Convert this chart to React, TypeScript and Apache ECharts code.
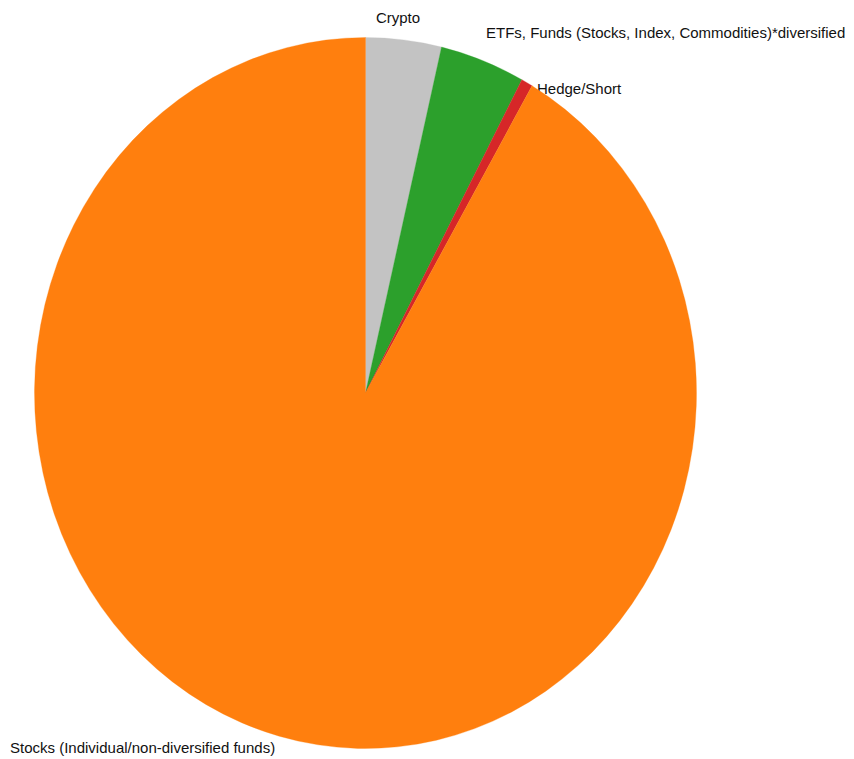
import React, { useEffect, useRef } from "react";
import * as echarts from "echarts";

const categories = [
  "Crypto",
  "ETFs, Funds (Stocks, Index, Commodities)*diversified",
  "Hedge/Short",
  "Stocks (Individual/non-diversified funds)",
];
const shares = [3.69, 4.14, 0.56, 91.61];
const colors = ["#c3c3c3", "#2ca02c", "#d62728", "#ff7f0e"];

export default function App() {
  const ref = useRef<HTMLDivElement>(null);
  useEffect(() => {
    if (!ref.current) return;
    const chart = echarts.init(ref.current, undefined, { renderer: "svg" });
    const total = shares.reduce((a, b) => a + b, 0);
    const cx = 365.5;
    const cy = 393;
    const rx = 331;
    const ry = 355.5;
    const renderItem = (params: any, api: any) => {
      const i = params.dataIndex;
      let before = 0;
      for (let k = 0; k < i; k++) before += shares[k];
      const v = api.value(0);
      const start = -Math.PI / 2 + (2 * Math.PI * before) / total;
      const end = start + (2 * Math.PI * v) / total;
      return {
        type: "sector",
        x: cx,
        y: cy,
        scaleY: ry / rx,
        shape: { cx: 0, cy: 0, r0: 0, r: rx, startAngle: start, endAngle: end, clockwise: true },
        style: { fill: api.visual("color"), stroke: api.visual("color"), lineWidth: 0.3 },
      };
    };
    const font = { fontFamily: "Liberation Sans, Arial, sans-serif", fontSize: 15, fill: "#111111" };
    chart.setOption({
      animation: false,
      backgroundColor: "#ffffff",
      series: [
        {
          type: "custom",
          coordinateSystem: "none",
          renderItem,
          data: shares.map((v, i) => ({ value: v, name: categories[i], itemStyle: { color: colors[i] } })),
        },
      ],
      graphic: [
        { type: "text", x: 398, y: 17, style: { ...font, text: categories[0], textAlign: "center", textVerticalAlign: "middle" } },
        { type: "text", x: 486, y: 32, style: { ...font, text: categories[1], textAlign: "left", textVerticalAlign: "middle" } },
        { type: "text", x: 537, y: 88, style: { ...font, text: categories[2], textAlign: "left", textVerticalAlign: "middle" } },
        { type: "text", x: 10, y: 747, style: { ...font, text: categories[3], textAlign: "left", textVerticalAlign: "middle" } },
      ],
    });
    return () => chart.dispose();
  }, []);
  return <div ref={ref} style={{ position: "fixed", left: 0, top: 0, width: 854, height: 759 }} />;
}
